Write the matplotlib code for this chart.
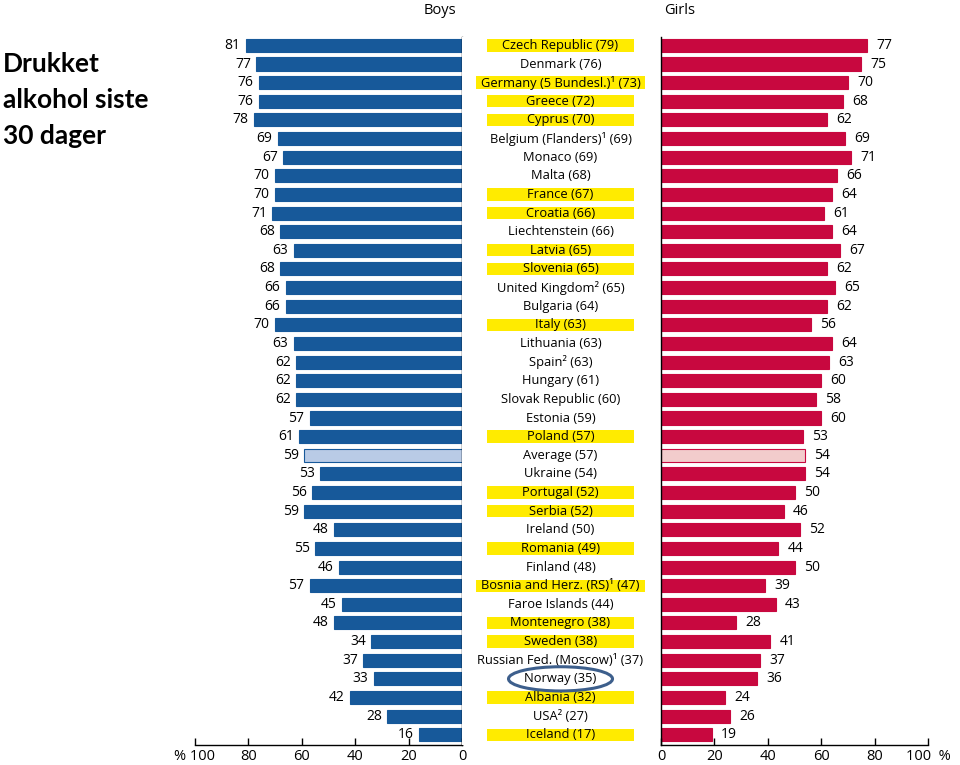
import matplotlib.pyplot as plt
from matplotlib.patches import Rectangle, Ellipse

countries = [
    "Czech Republic (79)", "Denmark (76)", "Germany (5 Bundesl.)¹ (73)", "Greece (72)",
    "Cyprus (70)", "Belgium (Flanders)¹ (69)", "Monaco (69)", "Malta (68)",
    "France (67)", "Croatia (66)", "Liechtenstein (66)", "Latvia (65)",
    "Slovenia (65)", "United Kingdom² (65)", "Bulgaria (64)", "Italy (63)",
    "Lithuania (63)", "Spain² (63)", "Hungary (61)", "Slovak Republic (60)",
    "Estonia (59)", "Poland (57)", "Average (57)", "Ukraine (54)",
    "Portugal (52)", "Serbia (52)", "Ireland (50)", "Romania (49)",
    "Finland (48)", "Bosnia and Herz. (RS)¹ (47)", "Faroe Islands (44)", "Montenegro (38)",
    "Sweden (38)", "Russian Fed. (Moscow)¹ (37)", "Norway (35)", "Albania (32)",
    "USA² (27)", "Iceland (17)",
]
boys = [81, 77, 76, 76, 78, 69, 67, 70, 70, 71, 68, 63, 68, 66, 66, 70, 63, 62, 62,
        62, 57, 61, 59, 53, 56, 59, 48, 55, 46, 57, 45, 48, 34, 37, 33, 42, 28, 16]
girls = [77, 75, 70, 68, 62, 69, 71, 66, 64, 61, 64, 67, 62, 65, 62, 56, 64, 63, 60,
         58, 60, 53, 54, 54, 50, 46, 52, 44, 50, 39, 43, 28, 41, 37, 36, 24, 26, 19]
highlighted = ["Czech Republic (79)", "Germany (5 Bundesl.)¹ (73)", "Greece (72)",
               "Cyprus (70)", "France (67)", "Croatia (66)", "Latvia (65)",
               "Slovenia (65)", "Italy (63)", "Poland (57)", "Portugal (52)",
               "Serbia (52)", "Romania (49)", "Bosnia and Herz. (RS)¹ (47)",
               "Montenegro (38)", "Sweden (38)", "Albania (32)", "Iceland (17)"]
average_label = "Average (57)"
circled_label = "Norway (35)"
ticks = [0, 20, 40, 60, 80, 100]

BLUE = "#17599a"
RED = "#c8083f"
YELLOW = "#ffeb00"
FONT = "Open Sans"

plt.rcParams["font.family"] = [FONT, "DejaVu Sans"]

W, H = 960, 765
fig = plt.figure(figsize=(W / 100, H / 100), dpi=100)


def frac(x0, y0, x1, y1):
    return [x0 / W, 1 - y1 / H, (x1 - x0) / W, (y1 - y0) / H]


ax_b = fig.add_axes(frac(195, 37, 462, 745))
ax_m = fig.add_axes(frac(462, 37, 661, 745))
ax_g = fig.add_axes(frac(661, 37, 928, 745))

n = len(countries)
ys = list(range(n))
ylim = (n - 1 + 0.55, -0.45)
bar_h = 0.7

avg_i = countries.index(average_label)
b_colors = [BLUE] * n
g_colors = [RED] * n
b_colors[avg_i] = "#b9cbe6"
g_colors[avg_i] = "#f2cccc"

ax_b.barh(ys, boys, height=bar_h, color=b_colors, edgecolor=BLUE, linewidth=0.8)
ax_g.barh(ys, girls, height=bar_h, color=g_colors, edgecolor=RED, linewidth=0.8)

for y, v in zip(ys, boys):
    ax_b.text(v + 2, y, str(v), ha="right", va="center", fontsize=10)
for y, v in zip(ys, girls):
    ax_g.text(v + 3.5, y, str(v), ha="left", va="center", fontsize=10)

ax_b.set_xlim(100, 0)
ax_g.set_xlim(0, 100)
for ax in (ax_b, ax_g, ax_m):
    ax.set_ylim(*ylim)
    ax.set_yticks([])
    for s in ax.spines.values():
        s.set_visible(False)

ax_b.spines["right"].set_visible(True)
ax_b.spines["bottom"].set_visible(True)
ax_g.spines["left"].set_visible(True)
ax_g.spines["bottom"].set_visible(True)
for ax in (ax_b, ax_g):
    ax.set_xticks(ticks)
    ax.tick_params(axis="x", direction="in", length=5, width=1, labelsize=10.5, pad=3)
    for s in ax.spines.values():
        s.set_linewidth(1)
ax_b.set_xticklabels([str(t) if t < 100 else "% 100" for t in ticks])
ax_g.set_xticklabels([str(t) if t < 100 else "100  %" for t in ticks])

ax_m.set_xlim(0, 1)
ax_m.set_xticks([])

texts = []
for y, c in zip(ys, countries):
    t = ax_m.text(0.495, y, c, ha="center", va="center", fontsize=9.3, zorder=3)
    texts.append(t)

fig.canvas.draw()
rend = fig.canvas.get_renderer()
mid_w = ax_m.get_window_extent().width
for t, c, y in zip(texts, countries, ys):
    if c in highlighted:
        tw = t.get_window_extent(rend).width
        w = max(147, tw + 10) / mid_w
        ax_m.add_patch(Rectangle((0.495 - w / 2, y - 0.33), w, 0.66,
                                 color=YELLOW, lw=0, zorder=1))
    if c == circled_label:
        ax_m.add_patch(Ellipse((0.495, y), 104 / mid_w, 1.3, fill=False,
                               edgecolor="#3d5f8c", lw=2.2, zorder=4))

fig.text(440 / W, 1 - 11 / H, "Boys", ha="center", va="center", fontsize=10.5)
fig.text(680 / W, 1 - 11 / H, "Girls", ha="center", va="center", fontsize=10.5)

fig.text(3 / W, 1 - 100 / H, "Drukket\nalkohol siste\n30 dager", ha="left", va="center",
         fontsize=19, fontweight="bold", family=["Lato", "DejaVu Sans"], linespacing=1.6)

fig.savefig("out.png", dpi=100)
